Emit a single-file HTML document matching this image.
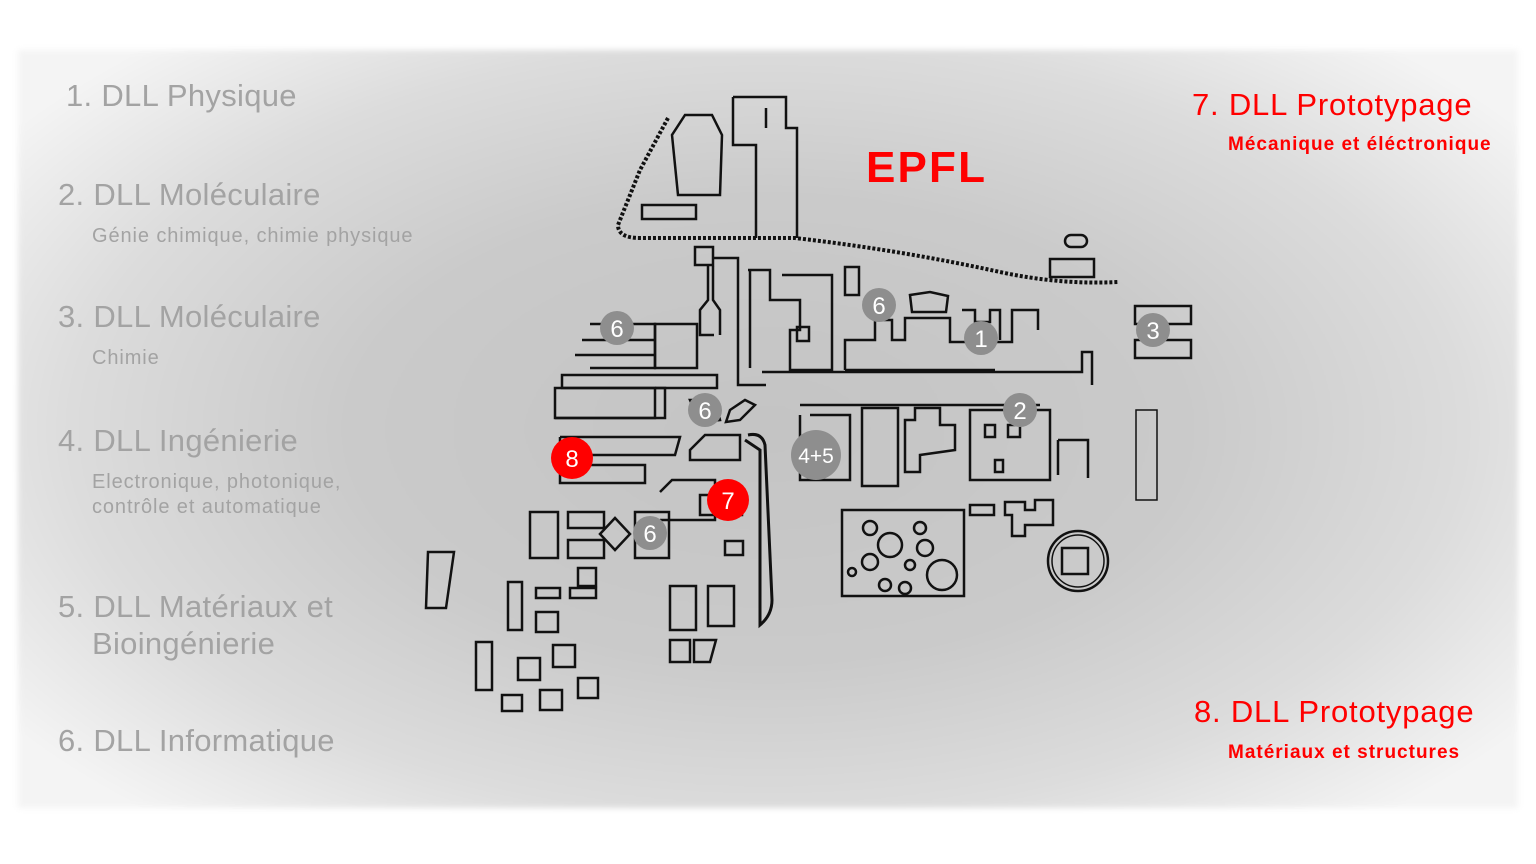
<!DOCTYPE html>
<html><head><meta charset="utf-8"><style>
html,body{margin:0;padding:0;background:#fff;width:1536px;height:864px;overflow:hidden;font-family:"Liberation Sans",sans-serif}
#p{position:absolute;left:18px;top:50px;width:1500px;height:758px;background:radial-gradient(ellipse 62% 68% at 50% 50%,#c4c4c4 0%,#cacaca 45%,#dcdcdc 75%,#f4f4f4 100%);filter:blur(3px)}
.t{position:absolute;color:#a3a3a3;font-size:31px;letter-spacing:0.3px;white-space:nowrap}
.s{position:absolute;color:#a3a3a3;font-size:20px;letter-spacing:0.9px;white-space:nowrap}
.r{color:#f00}
.s.r{letter-spacing:1px;font-weight:bold;font-size:19px}
</style></head><body>
<div id="p"></div>
<div class="t" style="left:66px;top:78px">1. DLL Physique</div>
<div class="t" style="left:58px;top:177px">2. DLL Moléculaire</div>
<div class="s" style="left:92px;top:225px">Génie chimique, chimie physique</div>
<div class="t" style="left:58px;top:299px">3. DLL Moléculaire</div>
<div class="s" style="left:92px;top:347px">Chimie</div>
<div class="t" style="left:58px;top:423px">4. DLL Ingénierie</div>
<div class="s" style="left:92px;top:470px;line-height:25px">Electronique, photonique,<br>contrôle et automatique</div>
<div class="t" style="left:58px;top:588px;line-height:37px">5. DLL Matériaux et<br><span style="padding-left:34px">Bioingénierie</span></div>
<div class="t" style="left:58px;top:723px">6. DLL Informatique</div>
<div class="t r" style="left:1192px;top:87px;letter-spacing:0.8px">7. DLL Prototypage</div>
<div class="s r" style="left:1228px;top:134px">Mécanique et éléctronique</div>
<div class="t r" style="left:1194px;top:694px;letter-spacing:0.8px">8. DLL Prototypage</div>
<div class="s r" style="left:1228px;top:742px">Matériaux et structures</div>
<svg width="1536" height="864" style="position:absolute;left:0;top:0" fill="none" stroke="#111" stroke-width="2.5">
<text x="866" y="182" fill="#f00" stroke="none" font-size="44" font-weight="bold" font-family="Liberation Sans" letter-spacing="1" textLength="120">EPFL</text>
<path d="M668 118 L640 170 L618 225 Q618 238 640 238 L795 238 Q900 250 1000 272 Q1060 285 1118 282" stroke-dasharray="3 2" stroke-width="4"/>
<path d="M685 115 L712 115 L722 135 L720 195 L678 195 L672 135 Z"/>
<rect x="642" y="205" width="54" height="14"/>
<path d="M733 97 L786 97 L786 128 L797 128 L797 238 M733 97 L733 145 L756 145 L756 238 M766 108 L766 128"/>
<rect x="1065" y="235" width="22" height="12" rx="6"/>
<rect x="1050" y="259" width="44" height="18"/>
<rect x="695" y="247" width="18" height="18"/>
<path d="M708 266 L708 300 L700 310 L700 335 L714 335 M713 266 L713 300 L720 310 L720 335"/>
<path d="M714 258 L738 258 L738 385 L766 385 M748 270 L770 270 L770 300 L800 300 L800 330 L790 330 L790 370 L832 370 L832 275 L782 275 M750 270 L750 368"/>
<rect x="797" y="327" width="12" height="14"/>
<rect x="845" y="267" width="14" height="28"/>
<path d="M845 370 L845 340 L875 340 L875 320 L892 320 L892 340 L905 340 L905 318 L950 318 L950 342 L975 342 L1012 342 L1012 310 L1038 310 L1038 330 M845 370 L995 370"/>
<path d="M910 295 L930 292 L948 296 L946 312 L912 312 Z"/>
<path d="M962 310 L975 310 L975 322 L990 322 L990 310 L1000 310 L1000 340"/>
<path d="M762 372 L1082 372 L1082 352 L1092 352 L1092 385"/>
<rect x="1135" y="306" width="56" height="18"/>
<rect x="1135" y="340" width="56" height="18"/>
<rect x="1136" y="410" width="21" height="90" stroke-width="1.5"/>
<path d="M590 324 L655 324 L655 368 L590 368 M582 340 L655 340 M575 355 L655 355"/>
<rect x="655" y="324" width="42" height="44"/>
<rect x="562" y="375" width="155" height="13"/>
<rect x="555" y="388" width="100" height="30"/>
<path d="M655 388 L665 388 L665 418 L555 418"/>
<path d="M690 400 L715 400 L720 420 L700 422 Z M730 410 L745 400 L755 405 L740 420 L726 422 Z"/>
<path d="M560 437 L680 437 L675 455 L560 455 M560 465 L645 465 L645 483 L560 483 L560 437"/>
<path d="M690 450 L705 435 L740 435 L740 460 L690 460 Z"/>
<path d="M660 492 L672 480 L715 480 L715 520 L660 520"/>
<path d="M748 435 Q762 432 765 445 L772 600 Q772 615 760 625 L760 450 L745 440" stroke-width="3"/>
<rect x="700" y="495" width="42" height="20"/>
<rect x="530" y="512" width="28" height="46"/>
<rect x="568" y="512" width="36" height="16"/>
<rect x="568" y="540" width="36" height="18"/>
<path d="M600 534 L615 518 L630 534 L615 550 Z"/>
<rect x="635" y="512" width="34" height="46"/>
<rect x="725" y="541" width="18" height="14"/>
<rect x="578" y="568" width="18" height="18"/>
<rect x="536" y="588" width="24" height="10"/>
<rect x="570" y="588" width="26" height="10"/>
<path d="M508 582 L522 582 L522 630 L508 630 Z M536 612 L558 612 L558 632 L536 632 Z"/>
<rect x="476" y="642" width="16" height="48"/>
<rect x="518" y="658" width="22" height="22"/>
<rect x="553" y="645" width="22" height="22"/>
<rect x="578" y="678" width="20" height="20"/>
<rect x="540" y="690" width="22" height="20"/>
<rect x="502" y="695" width="20" height="16"/>
<path d="M428 552 L454 552 L446 608 L426 608 Z"/>
<rect x="670" y="586" width="26" height="44"/>
<rect x="708" y="586" width="26" height="40"/>
<rect x="670" y="640" width="20" height="22"/>
<path d="M694 640 L716 640 L710 662 L694 662 Z"/>
<path d="M800 405 L1040 405 M810 415 L850 415 L850 480 L800 480 L800 415"/>
<rect x="862" y="408" width="36" height="78"/>
<path d="M905 420 L915 420 L915 408 L940 408 L940 425 L955 425 L955 450 L920 455 L920 472 L905 472 Z"/>
<path d="M970 410 L1050 410 L1050 480 L970 480 Z"/>
<rect x="985" y="425" width="10" height="12"/>
<rect x="1008" y="425" width="12" height="12"/>
<rect x="995" y="460" width="8" height="12"/>
<path d="M1058 440 L1088 440 L1088 478 M1058 440 L1058 475"/>
<rect x="842" y="510" width="122" height="86"/>
<circle cx="870" cy="528" r="7"/><circle cx="920" cy="528" r="6"/><circle cx="890" cy="545" r="12"/><circle cx="925" cy="548" r="8"/><circle cx="870" cy="562" r="8"/><circle cx="942" cy="575" r="15"/><circle cx="885" cy="585" r="6"/><circle cx="905" cy="588" r="6"/><circle cx="852" cy="572" r="4"/><circle cx="910" cy="565" r="5"/>
<rect x="970" y="505" width="24" height="10"/>
<path d="M1005 502 L1025 502 L1025 510 L1035 510 L1035 500 L1053 500 L1053 525 L1025 525 L1025 536 L1012 536 L1012 515 L1005 515 Z"/>
<circle cx="1078" cy="561" r="30"/><circle cx="1078" cy="561" r="26" stroke-width="1.5"/>
<rect x="1062" y="548" width="26" height="26"/>
</svg>
<svg width="1536" height="864" style="position:absolute;left:0;top:0" font-family="Liberation Sans" font-size="24" text-anchor="middle">
<g fill="#8e8e8e">
<circle cx="617" cy="328" r="17"/><circle cx="879" cy="305" r="17"/><circle cx="981" cy="338" r="17"/><circle cx="1153" cy="330" r="17"/><circle cx="705" cy="410" r="17"/><circle cx="1020" cy="410" r="17"/><circle cx="816" cy="455" r="25"/><circle cx="650" cy="533" r="17"/>
</g>
<g fill="#f00"><circle cx="572" cy="458" r="21"/><circle cx="728" cy="500" r="21"/></g>
<g fill="#fff">
<text x="617" y="337">6</text><text x="879" y="314">6</text><text x="981" y="347">1</text><text x="1153" y="339">3</text><text x="705" y="419">6</text><text x="1020" y="419">2</text><text x="816" y="463" font-size="21">4+5</text><text x="650" y="542">6</text><text x="572" y="467">8</text><text x="728" y="509">7</text>
</g></svg>
</body></html>
